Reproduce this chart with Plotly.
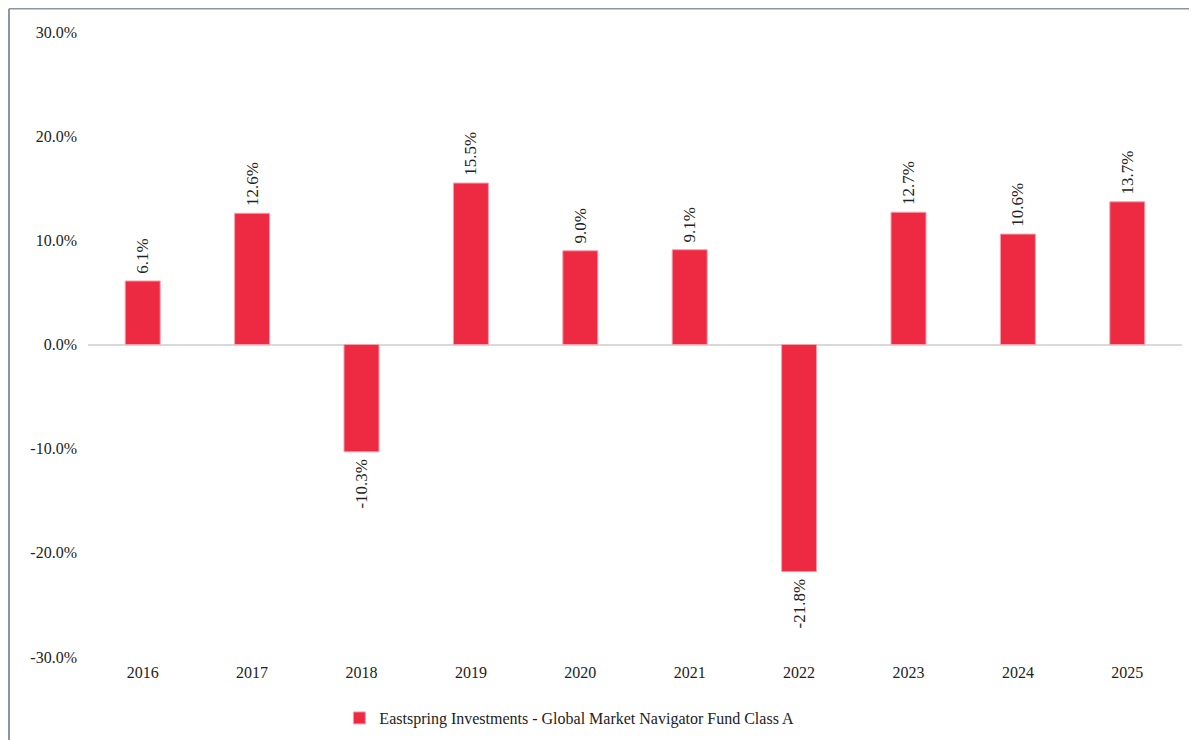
import plotly.graph_objects as go

years = ["2016", "2017", "2018", "2019", "2020", "2021", "2022", "2023", "2024", "2025"]
returns = [6.1, 12.6, -10.3, 15.5, 9.0, 9.1, -21.8, 12.7, 10.6, 13.7]
series_name = "Eastspring Investments - Global Market Navigator Fund Class A"
y_ticks = [-30, -20, -10, 0, 10, 20, 30]
y_tick_labels = ["-30.0%", "-20.0%", "-10.0%", "0.0%", "10.0%", "20.0%", "30.0%"]

FONT = "Liberation Serif, Times New Roman, serif"
NB = "\u00a0"

labels = [(NB + f"{v:.1f}%") if v >= 0 else (f"{v:.1f}%" + NB) for v in returns]

fig = go.Figure()
fig.add_trace(go.Bar(
    x=years,
    y=returns,
    name=series_name,
    marker=dict(color="#ee2a43", line=dict(color="#f6a0ab", width=1)),
    width=0.32,
    text=labels,
    textposition="outside",
    textangle=-90,
    constraintext="none",
    textfont=dict(family=FONT, size=17, color="#222222"),
    cliponaxis=False,
    hoverinfo="skip",
))

fig.update_layout(
    width=1197,
    height=740,
    margin=dict(l=80, r=23, t=24, b=91, autoexpand=False),
    paper_bgcolor="white",
    plot_bgcolor="white",
    font=dict(family=FONT, size=16, color="#222222"),
    showlegend=True,
    legend=dict(
        orientation="h",
        x=0.44, xanchor="center",
        y=-0.0976, yanchor="middle",
        font=dict(family=FONT, size=16, color="#222222"),
    ),
    xaxis=dict(
        automargin=False,
        showgrid=False,
        showline=False,
        ticks="",
        tickfont=dict(family=FONT, size=16, color="#222222"),
        ticklabelstandoff=4,
    ),
    yaxis=dict(
        automargin=False,
        range=[-30, 30],
        tickvals=y_ticks,
        ticktext=y_tick_labels,
        showgrid=False,
        zeroline=True,
        zerolinecolor="#d9d9d9",
        zerolinewidth=2,
        showline=False,
        ticks="",
        tickfont=dict(family=FONT, size=16, color="#222222"),
        ticklabelstandoff=10,
    ),
    shapes=[
        dict(type="line", xref="paper", yref="paper",
             x0=-0.0722, x1=1.2, y0=1.0372, y1=1.0372,
             line=dict(color="#8c969e", width=1.5)),
        dict(type="line", xref="paper", yref="paper",
             x0=-0.0722, x1=-0.0722, y0=-0.2, y1=1.0372,
             line=dict(color="#8c969e", width=2)),
    ],
)

fig.write_html("out.html")
